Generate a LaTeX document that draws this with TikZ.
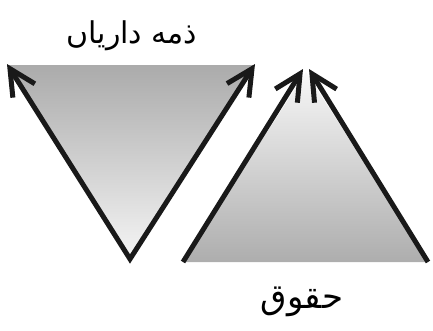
\documentclass[tikz,border=0pt]{standalone}
\usepackage{fontspec}
\newfontfamily\arabicfont[Script=Arabic]{DejaVu Sans}
\TeXXeTstate=1
\usetikzlibrary{arrows.meta}
\tikzset{barb/.tip={Straight Barb[length=26pt,width=26pt,line width=5pt]}}
\begin{document}
\begin{tikzpicture}[x=1pt,y=-1pt,
  edge/.style={line width=5pt, line join=miter, line cap=butt, black!90},
  lbl/.style={font=\arabicfont\fontsize{30}{34}\selectfont, inner sep=0pt}]
\useasboundingbox (0,0) rectangle (433,330);
% left triangle
\coordinate (ltl) at (7,64);
\coordinate (ltr) at (255,64);
\coordinate (lb) at (130,259);
\shade[top color=black!33, bottom color=black!4] (7,65) -- (255,65) -- (lb) -- cycle;
\draw[edge, barb-barb] (ltl) -- (lb) -- (ltr);
% right triangle
\coordinate (rbl) at (183,262);
\coordinate (rbr) at (428,262);
\coordinate (rtl) at (303,69);
\coordinate (rtr) at (309,69);
\shade[top color=black!3, bottom color=black!32] (306,72) -- (rbr) -- (rbl) -- cycle;
\draw[edge, -barb] (rbl) -- (rtl);
\draw[edge, -barb] (rbr) -- (rtr);
% labels
\node[lbl] (top) at (132,36) {\beginR ذمه داریاں\endR};
\node[lbl, font=\arabicfont\fontsize{34}{38}\selectfont] (bot) at (302,302) {\beginR حقوق\endR};
\end{tikzpicture}
\end{document}
